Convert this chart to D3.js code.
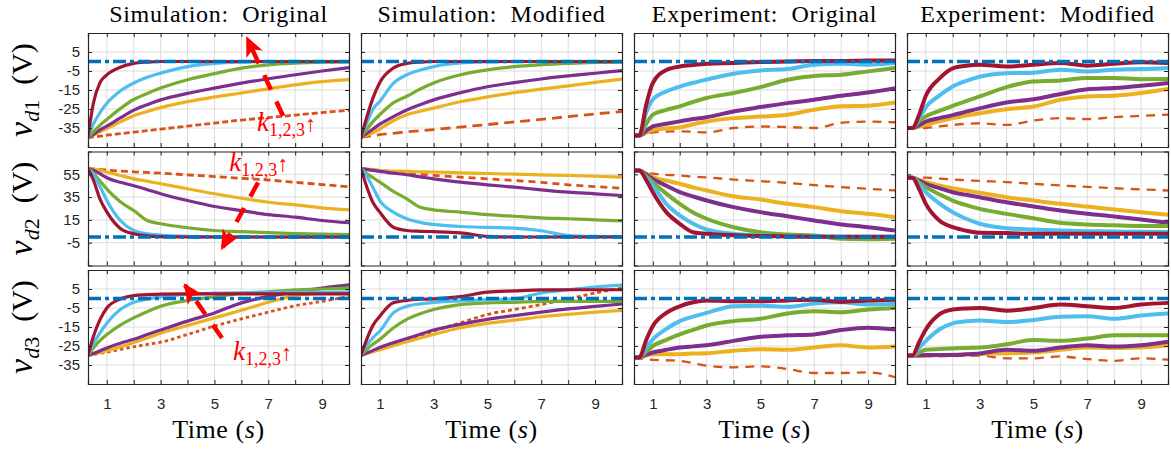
<!DOCTYPE html>
<html>
<head>
<meta charset="utf-8">
<script src="https://cdn.jsdelivr.net/npm/d3@7"></script>
<style>
body { margin: 0; background: #fff; }
</style>
</head>
<body>
<div id="chart"></div>
<script>
// time samples shared by every series (s)
const time = [0.3, 0.5, 0.75, 1, 1.5, 2, 2.5, 3, 4, 5, 6, 7, 8, 9, 10]
const refValue = 0

const columnTitles = ["Simulation:  Original", "Simulation:  Modified", "Experiment:  Original", "Experiment:  Modified"]
const rowSubs = ["d1", "d2", "d3"]
const yDomains = [[-45, 15], [-25, 75], [-45, 15]]
const yTicks = [[5, -5, -15, -25, -35], [55, 35, 15, -5], [5, -5, -15, -25, -35]]
const xTicks = [1, 2, 3, 4, 5, 6, 7, 8, 9]
const xTickLabels = [1, 3, 5, 7, 9]

// series order: orange (dashed), yellow, purple, green, light blue, dark red
const seriesColors = ["#D95319", "#EDB120", "#7E2F8E", "#77AC30", "#4DBEEE", "#A2142F"]

// ---- v_d1 ----
const simOrigVd1 = [
  [-40, -39.7, -39.3, -38.8, -38, -37.2, -36.4, -35.6, -34, -32.4, -30.8, -29.5, -28.2, -26.9, -25.6],
  [-40, -38.8, -37, -35.3, -31.8, -28.5, -26.3, -24.3, -21.1, -18.7, -16.6, -14.4, -12.3, -10.6, -9.5],
  [-40, -38.3, -36, -34, -29.7, -25.6, -22.7, -20.2, -16.8, -14, -11.4, -9.1, -7, -5, -3.2],
  [-40, -37, -33.5, -30.5, -24.8, -20, -16.8, -14, -9.6, -6.4, -3.5, -1.8, -0.9, -0.4, -0.2],
  [-40, -33, -26.8, -22, -15.5, -11.3, -8.3, -6.1, -2.7, -1, -0.3, 0, 0, 0, 0],
  [-40, -22, -11, -7, -3, -1, -0.3, 0, 0, 0, 0, 0, 0, 0, 0]
]
const simModVd1 = [
  [-40, -39.6, -39, -38.5, -37.8, -37, -36.4, -35.8, -34.5, -33.2, -31.8, -30.5, -29, -27.6, -26.3],
  [-40, -39, -37.5, -35.5, -31.2, -28, -26.2, -24.5, -21.2, -18.6, -16.4, -14.5, -12.8, -11, -9.3],
  [-40, -38, -35.5, -33, -29, -25.5, -22.7, -20.2, -16.4, -13.3, -11.1, -9.2, -7.6, -6.2, -4.8],
  [-40, -36, -31.5, -28, -21.8, -18.3, -14.5, -11.3, -7, -4.4, -2.7, -1.7, -1, -0.5, -0.3],
  [-40, -33, -25, -21, -11.5, -7, -4.5, -2.7, -0.8, -0.2, 0, 0, 0, 0, 0],
  [-40, -30, -19, -11, -3.5, -1, -0.3, 0, 0, 0, 0, 0, 0, 0, 0]
]
const expOrigVd1 = [
  [-39, -39, -38, -37.3, -36.9, -36.8, -37, -37.3, -35, -34.2, -34.5, -35, -32.3, -31.6, -32],
  [-39, -39, -37.5, -36, -35.2, -34.7, -33, -31.6, -29.8, -29, -28, -25.4, -23.6, -23.3, -21.6],
  [-39, -39, -36.5, -34.2, -32.8, -31.5, -30.3, -29.3, -26.3, -24, -21.9, -20.1, -18, -16.3, -14],
  [-39, -39, -33, -28, -25.5, -23.6, -21.3, -19.2, -16.6, -13.5, -9.6, -7.6, -7, -5.2, -3.4],
  [-39, -39, -27, -20, -15.8, -13.2, -11.2, -9.5, -6.4, -4.7, -4, -1.7, -1.2, -1.7, -0.8],
  [-39, -39, -23, -11.3, -4.5, -2.6, -1.8, -1.2, -0.8, -0.3, 0, 0.3, 0.2, 0.5, 0.5]
]
const expModVd1 = [
  [-35, -35, -35.2, -35, -34.2, -33.4, -32.8, -32.5, -33.4, -31.1, -29.8, -30.3, -29.3, -28.6, -28],
  [-35, -35, -34.3, -33.4, -31.5, -29.8, -28.4, -27.2, -25.1, -23.7, -20.1, -18.4, -18, -16.6, -14.5],
  [-35, -35, -33.5, -31.6, -29.8, -28.2, -26.4, -24.7, -21.6, -19.9, -17.1, -14.6, -14, -12.8, -11.3],
  [-35, -35, -31.5, -28.9, -26, -23.3, -20.8, -18.4, -13.5, -10.5, -10, -8.7, -8.7, -9.3, -9.2],
  [-35, -35, -30, -24, -18, -13.2, -10.2, -8, -6.2, -5.9, -4.3, -5.2, -4.3, -4, -3.4],
  [-35, -35, -28, -18, -9, -3.6, -2.2, -1.7, -2.6, -1.7, -0.8, -2.2, -1.2, -0.4, -0.8]
]

// ---- v_d2 ----
const simOrigVd2 = [
  [60, 59.7, 59.2, 58.7, 57.9, 57.2, 56.6, 56, 54.5, 53, 51.5, 50, 48, 46, 44],
  [60, 59.5, 58.5, 57, 54, 51, 49, 46.7, 42.3, 37.9, 34, 30.5, 28.2, 25.6, 23.9],
  [60, 58.5, 55.5, 52, 48, 45, 41.5, 38, 32, 26.8, 23.2, 19.7, 17.4, 14.5, 12.5],
  [60, 56, 49, 42, 31, 23.2, 14.5, 11.6, 8.1, 5.7, 4.7, 3.8, 3, 2.5, 2.2],
  [60, 55, 44, 32, 14.5, 5.7, 2.8, 1.6, 0.5, 0.2, 0, 0, 0, 0, 0],
  [60, 50, 33, 22, 7.5, 2.8, 1, 0.3, 0, 0, 0, 0, 0, 0, 0]
]
const simModVd2 = [
  [60, 59.6, 59, 58.5, 57.2, 56, 55, 54, 52.5, 51, 49.6, 48, 45.8, 44.2, 42.8],
  [60, 59.5, 59, 58.3, 57.8, 57.5, 57.2, 57, 56.3, 55.7, 55.1, 54.5, 54, 53.3, 52.5],
  [60, 59.3, 58.4, 57.5, 56, 54.6, 52.8, 51, 48.1, 45.8, 43.7, 41.4, 39.3, 37.9, 36.4],
  [60, 56, 52, 48.1, 40, 33.5, 26, 23.8, 21.8, 19.7, 18.2, 16.8, 16, 15.1, 14.2],
  [60, 54, 43, 32, 21.8, 16, 12.8, 11, 9.2, 8.4, 7.8, 5.5, 1.3, 0.5, 0.3],
  [60, 45, 30, 21.8, 8.6, 5.7, 5, 4.7, 3.7, 0.5, 0, 0, 0, 0, 0]
]
const expOrigVd2 = [
  [58.3, 58.3, 56, 55.5, 54.5, 54, 53, 52.3, 50.4, 49, 47.5, 45.5, 43.7, 42.3, 40.8],
  [58.3, 58.3, 55.5, 52.5, 49.5, 46.7, 43.5, 40.8, 35.8, 32.9, 29.1, 26.2, 22.6, 20.3, 17.4],
  [58.3, 58.3, 55, 51, 45, 39.3, 35.5, 32, 26.2, 21.8, 18.2, 14.5, 11, 8.6, 5.7],
  [58.3, 58.3, 53.5, 48.1, 38, 29.1, 21.5, 16, 8.6, 4.2, 2.2, 1.3, -1.6, -2, -1.6],
  [58.3, 58.3, 52, 45.2, 29.1, 18.9, 11.6, 6.6, 2.8, 1.3, 0.5, 0.5, 0.3, 0.3, 0.3],
  [58.3, 58.3, 50, 39.3, 21.8, 11.6, 4.2, 2.8, 1.5, 0.8, 0.5, 0.3, 0.3, 0.3, 0.3]
]
const expModVd2 = [
  [52, 52, 52, 52, 51.2, 50.4, 49.8, 49.2, 48.1, 46.6, 45.2, 44, 42.8, 41.8, 40.8],
  [52, 52, 50, 48.1, 45.3, 42.8, 40.8, 38.8, 34.9, 32, 29.1, 26.7, 24.1, 21.8, 19.5],
  [52, 52, 49.5, 46.7, 42.8, 39.3, 37, 34.9, 30.5, 26.7, 23.2, 20.3, 18, 15.4, 12.5],
  [52, 52, 48, 43.7, 37.5, 32, 28, 24.7, 20.3, 16.5, 12.5, 11, 10.2, 9.6, 9.6],
  [52, 52, 46, 39.3, 29.5, 21.8, 16, 11.6, 7.7, 6.6, 5.7, 5.1, 4.8, 4.5, 4.3],
  [52, 52, 42, 29.1, 14.5, 8.6, 5.5, 3.7, 3.5, 2.8, 2.8, 2.8, 2.8, 2.8, 2.8]
]

// ---- v_d3 ----
const simOrigVd3 = [
  [-30, -29.5, -28.8, -28.2, -26.8, -25.4, -24.2, -23, -18.9, -14.5, -10.7, -7.2, -3.8, -1.5, 1.1],
  [-30, -29.3, -28.4, -27.5, -25.5, -23.2, -20.8, -18.3, -14.2, -10.2, -6.2, -2, 1.5, 2.8, 3.4],
  [-30, -29, -27.5, -26, -23.5, -21.5, -19, -16.6, -11.9, -7.6, -2.3, 1.1, 3.5, 5.5, 7.2],
  [-30, -26, -22, -19, -14, -10.2, -7, -4.1, -1, 0.8, 2.8, 3.5, 4.6, 5, 5.5],
  [-30, -24, -18, -13, -5.8, -2, -0.3, 0.8, 2.3, 2.8, 3, 3.2, 3.3, 3.3, 3.4],
  [-30, -20, -11, -5, -0.3, 1.5, 2, 2.3, 2.4, 2.4, 2.4, 2.4, 2.4, 2.4, 2.4]
]
const simModVd3 = [
  [-30, -29, -27.5, -26, -24, -22.3, -19.7, -17.1, -12.8, -8.4, -5.8, -3.2, -0.3, 2.9, 5.5],
  [-30, -29, -28, -27, -24.8, -22.8, -20.8, -18.9, -15.4, -13.1, -11.4, -9.6, -8.4, -7.2, -6.2],
  [-30, -28.8, -27.3, -25.8, -23.3, -21.1, -18.8, -16.6, -13.6, -11, -9, -7.2, -5.5, -4.1, -2.9],
  [-30, -27, -24, -21.5, -15.5, -11, -8, -5.8, -3.2, -2.3, -2, -1.5, -1.5, -1.5, -1.5],
  [-30, -25, -20.5, -17.1, -7.6, -4.1, -2.8, -2, -1.2, -0.6, -0.2, 2.9, 4.6, 6, 7],
  [-30, -22, -14, -9.3, -2.3, -1, -0.4, -0.2, 1, 3.4, 4, 4.5, 4.6, 4.6, 4.6]
]
const expOrigVd3 = [
  [-31, -31.5, -32, -32.3, -32.5, -32.8, -34, -35.3, -36.2, -35.7, -37.1, -39.2, -39.2, -38.9, -41.4],
  [-31, -31, -30, -29.3, -29.3, -29.3, -29, -28.8, -27.5, -26.7, -27, -25.8, -24.6, -25.8, -25.3],
  [-31, -31, -29.5, -28.4, -27, -25.8, -25.2, -24.6, -22.3, -20.1, -19.4, -18.9, -16.6, -15.4, -16.3],
  [-31, -31, -28, -25, -21.8, -18.9, -16.5, -14.2, -11.9, -10.7, -7.9, -6.7, -7.2, -5.8, -5],
  [-31, -31, -26, -21.5, -16, -11.9, -9.5, -7.6, -4.1, -3.8, -4.4, -2.7, -2, -3.2, -2.7],
  [-31, -31, -22, -14.5, -7.6, -4.1, -2, -1, -1.5, -1.5, -1, -0.6, -1.8, -1, -0.6]
]
const expModVd3 = [
  [-30, -30, -30.3, -30.5, -30.4, -30.3, -30.2, -30.1, -31.5, -31.5, -30.5, -31.9, -32.8, -31.5, -32.2],
  [-30, -30, -30, -30, -29.8, -29.6, -29.4, -29.2, -28.8, -28.4, -27, -25.8, -26, -25.8, -24.6],
  [-30, -30, -30, -29.8, -29.8, -29.8, -29.4, -28.9, -27, -27.5, -25.8, -24.6, -25.3, -24.6, -22.8],
  [-30, -30, -28.5, -27, -26.6, -26.3, -26, -25.8, -24.1, -21.8, -22.3, -21.1, -19.4, -19.4, -19.4],
  [-30, -30, -26, -22.3, -16.3, -13.1, -12, -11.6, -12.4, -11.3, -9.6, -9.3, -10.7, -9, -7.9],
  [-30, -30, -23, -16.3, -8.4, -5.8, -5.2, -5, -6.4, -5, -3.2, -4.1, -5, -3.2, -2.3]
]

const panels = [
  [simOrigVd1, simModVd1, expOrigVd1, expModVd1],
  [simOrigVd2, simModVd2, expOrigVd2, expModVd2],
  [simOrigVd3, simModVd3, expOrigVd3, expModVd3]
]

// dash pattern of the orange series in each panel
const orangeDash = [
  ["6,3", "10,6", "9,7", "9,7"],
  ["7,4", "7,5", "9,7", "9,7"],
  ["3.5,3", "4,3", "9,7", "9,7"]
]

// "k_{1,2,3} up" arrows in first column: [t0, v0, t1, v1], label at [t, v]
const arrows = [[7.55, -28.7, 6.21, 12.4], [6.62, 47.8, 5.28, -10.1], [5.28, -20.8, 3.9, 7.1]]
const arrowLabels = [[6.58, -36.6], [5.55, 58.3], [5.69, -32.4]]

let width = 1171
let height = 450
let margin = {left: 88, top: 33}
let panelW = 261, panelH = 114, gapX = 12, gapY = 4.5

let svg = d3.select('#chart')
  .append('svg')
  .attr('width', width)
  .attr('height', height)
  .style('font-family', 'Liberation Sans, Arial, sans-serif')

svg.append('defs').append('marker')
  .attr('id', 'head')
  .attr('markerUnits', 'userSpaceOnUse')
  .attr('viewBox', '0 0 20 20')
  .attr('refX', 18).attr('refY', 10)
  .attr('markerWidth', 20).attr('markerHeight', 20)
  .attr('orient', 'auto')
  .append('path')
  .attr('d', 'M0,1 L20,10 L0,19 L5,10 Z')
  .attr('fill', '#ff0000')

let x = d3.scaleLinear().domain([0.3, 10]).range([0, panelW])

for (let r = 0; r < 3; r++) {
  let y = d3.scaleLinear().domain(yDomains[r]).range([panelH, 0])
  let line = d3.line()
    .x((d, i) => x(time[i]))
    .y(d => y(d))
    .curve(d3.curveMonotoneX)

  for (let c = 0; c < 4; c++) {
    let g = svg.append('g')
      .attr('transform', `translate(${margin.left + c * (panelW + gapX)},${margin.top + r * (panelH + gapY)})`)

    // grid
    g.append('g').selectAll('line').data(xTicks).enter().append('line')
      .attr('x1', d => x(d)).attr('x2', d => x(d))
      .attr('y1', 0).attr('y2', panelH)
      .attr('stroke', '#dcdcdc').attr('stroke-width', 1)
    g.append('g').selectAll('line').data(yTicks[r]).enter().append('line')
      .attr('y1', d => y(d)).attr('y2', d => y(d))
      .attr('x1', 0).attr('x2', panelW)
      .attr('stroke', '#dcdcdc').attr('stroke-width', 1)

    // series
    let clipId = `clip${r}${c}`
    g.append('clipPath').attr('id', clipId)
      .append('rect').attr('width', panelW).attr('height', panelH)
    let plot = g.append('g').attr('clip-path', `url(#${clipId})`)
    let exp = c >= 2
    panels[r][c].forEach((vals, k) => {
      plot.append('path')
        .datum(vals)
        .attr('d', line)
        .attr('fill', 'none')
        .attr('stroke', seriesColors[k])
        .attr('stroke-width', k == 0 ? (exp ? 2.3 : 2.8) : (exp ? 4 : 3.2))
        .attr('stroke-dasharray', k == 0 ? orangeDash[r][c] : null)
        .attr('stroke-linejoin', 'round')
    })
    plot.append('line')
      .attr('x1', 0).attr('x2', panelW)
      .attr('y1', y(refValue)).attr('y2', y(refValue))
      .attr('stroke', '#0072BD')
      .attr('stroke-width', 3.4)
      .attr('stroke-dasharray', '13,4,4,4')

    // axes (ticks inward, box)
    let bottom = d3.axisBottom(x).tickValues(xTicks).tickSize(-4).tickPadding(14)
      .tickFormat(d => (r == 2 && xTickLabels.includes(d)) ? d : '')
    let top = d3.axisTop(x).tickValues(xTicks).tickSize(-4).tickFormat('')
    let left = d3.axisLeft(y).tickValues(yTicks[r]).tickSize(-4).tickPadding(8)
      .tickFormat(d => c == 0 ? d : '')
    let right = d3.axisRight(y).tickValues(yTicks[r]).tickSize(-4).tickFormat('')

    g.append('g').attr('transform', `translate(0,${panelH})`).call(bottom)
    g.append('g').call(top)
    g.append('g').call(left)
    g.append('g').attr('transform', `translate(${panelW},0)`).call(right)
    g.selectAll('.domain').attr('stroke', '#262626').attr('stroke-width', 1.2)
    g.selectAll('.tick line').attr('stroke', '#262626')
    g.selectAll('.tick text').attr('fill', '#262626').style('font-size', '15px')

    if (r == 0) {
      g.append('text')
        .attr('x', panelW / 2).attr('y', -11)
        .attr('text-anchor', 'middle')
        .style('font-family', 'Liberation Serif, serif')
        .style('font-size', '24px')
        .style('letter-spacing', '0.7px')
        .style('white-space', 'pre')
        .text(columnTitles[c])
    }
    if (r == 2) {
      let t = g.append('text')
        .attr('x', panelW / 2).attr('y', panelH + 54)
        .attr('text-anchor', 'middle')
        .style('font-family', 'Liberation Serif, serif')
        .style('font-size', '26px')
        .style('letter-spacing', '0.6px')
      t.append('tspan').text('Time (')
      t.append('tspan').style('font-style', 'italic').text('s')
      t.append('tspan').text(')')
    }
    if (c == 0) {
      let lbl = g.append('text')
        .attr('transform', `translate(-56,${panelH / 2}) rotate(-90)`)
        .attr('text-anchor', 'middle')
        .style('font-family', 'Liberation Serif, serif')
        .style('font-size', '34px')
      lbl.append('tspan').style('font-style', 'italic').text('v')
      lbl.append('tspan').attr('dy', 7).style('font-size', '22px').style('font-style', 'italic').text(rowSubs[r][0])
      lbl.append('tspan').style('font-size', '22px').text(rowSubs[r][1])
      lbl.append('tspan').attr('dy', -7).style('font-size', '30px').text('\u2002(V)')

      // k arrow annotation
      let a = arrows[r]
      g.append('line')
        .attr('x1', x(a[0])).attr('y1', y(a[1]))
        .attr('x2', x(a[2])).attr('y2', y(a[3]))
        .attr('stroke', '#ff0000').attr('stroke-width', 4.5)
        .attr('stroke-dasharray', '16,13')
        .attr('marker-end', 'url(#head)')
      let kl = g.append('text')
        .attr('x', x(arrowLabels[r][0])).attr('y', y(arrowLabels[r][1]))
        .attr('fill', '#ff0000')
        .style('font-family', 'Liberation Serif, serif')
        .style('font-size', '27px')
      kl.append('tspan').style('font-style', 'italic').text('k')
      kl.append('tspan').attr('dy', 5).style('font-size', '18px').text('1,2,3')
      kl.append('tspan').attr('dy', -5).style('font-size', '22px').text('\u2191')
    }
  }
}
</script>
</body>
</html>
